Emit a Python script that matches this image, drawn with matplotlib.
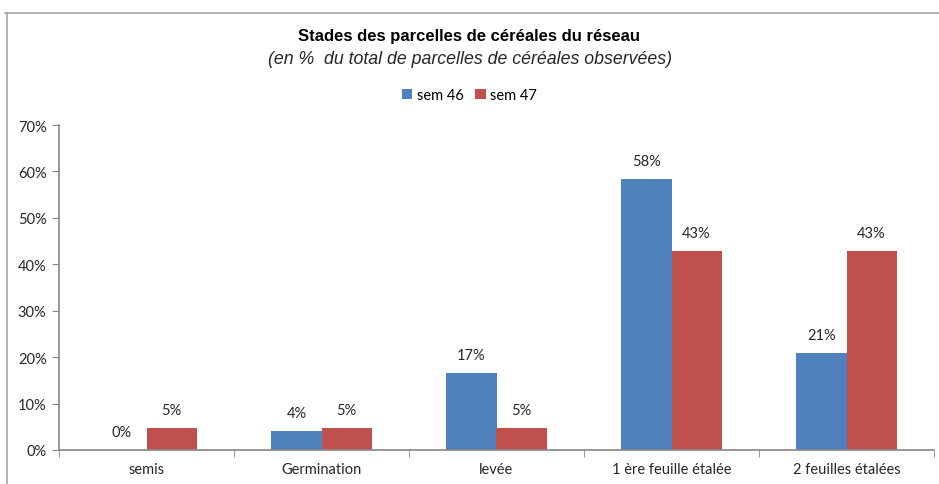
import matplotlib
matplotlib.use("Agg")
import matplotlib.pyplot as plt
from matplotlib.lines import Line2D
from matplotlib.patches import Patch
from matplotlib import font_manager
import numpy as np

categories = ["semis", "Germination", "levée", "1 ère feuille étalée", "2 feuilles étalées"]
sem46 = [0.0, 4.17, 16.67, 58.33, 20.83]
sem47 = [4.76, 4.76, 4.76, 42.86, 42.86]
labels46 = ["0%", "4%", "17%", "58%", "21%"]
labels47 = ["5%", "5%", "5%", "43%", "43%"]
series_names = ["sem 46", "sem 47"]
yticks = [0, 10, 20, 30, 40, 50, 60, 70]

available = {f.name for f in font_manager.fontManager.ttflist}
body_font = "Lato" if "Lato" in available else "DejaVu Sans"
narrow = "Liberation Sans Narrow" in available
title_font = "Liberation Sans Narrow" if narrow else "Liberation Sans"

plt.rcParams['font.family'] = [body_font, 'DejaVu Sans']

c46 = "#4F81BD"
c47 = "#C0504D"
gray = "#868686"
txt = "#262626"
fs = 10.5

fig = plt.figure(figsize=(9.39, 4.85), dpi=100)
W, H = 939, 485
ax = fig.add_axes([59 / W, 1 - 451 / H, 875 / W, 325 / H])

x = np.arange(len(categories))
bw = 0.286
ax.bar(x - bw / 2, sem46, bw, color=c46, label=series_names[0])
ax.bar(x + bw / 2, sem47, bw, color=c47, label=series_names[1])

for xi, v, lab in zip(x - bw / 2, sem46, labels46):
    ax.annotate(lab, (xi, v), xytext=(0, 13), textcoords="offset points",
                ha="center", va="center", fontsize=fs, color=txt)
for xi, v, lab in zip(x + bw / 2, sem47, labels47):
    ax.annotate(lab, (xi, v), xytext=(0, 13), textcoords="offset points",
                ha="center", va="center", fontsize=fs, color=txt)

ax.set_xlim(-0.5, len(categories) - 0.5)
ax.set_ylim(0, 70)
ax.set_yticks(yticks)
ax.set_yticklabels([f"{t}%" for t in yticks], fontsize=fs, color=txt)

ax.set_xticks(x)
ax.set_xticklabels(categories, fontsize=fs, color=txt)
ax.tick_params(axis="x", length=0, pad=9)
ax.set_xticks(np.arange(-0.5, len(categories), 1.0), minor=True)
ax.tick_params(axis="x", which="minor", length=5, color=gray, direction="out")
ax.tick_params(axis="y", length=5, color=gray, direction="out", pad=4)

for s in ["top", "right"]:
    ax.spines[s].set_visible(False)
for s in ["left", "bottom"]:
    ax.spines[s].set_color(gray)
    ax.spines[s].set_linewidth(1.2)

fig.text(0.5, 1 - 37 / H, "Stades des parcelles de céréales du réseau",
         ha="center", va="center", fontsize=13.5 if narrow else 12, fontweight="bold",
         family=[title_font, "DejaVu Sans"], color="black")
fig.text(0.5, 1 - 60 / H, "(en %  du total de parcelles de céréales observées)",
         ha="center", va="center", fontsize=12.8, style="italic",
         family=["Liberation Sans", "DejaVu Sans"], color=txt)

handles = [Patch(facecolor=c46, label=series_names[0]),
           Patch(facecolor=c47, label=series_names[1])]
fig.legend(handles=handles, loc="center", bbox_to_anchor=(0.5, 1 - 96 / H),
           ncol=2, frameon=False, fontsize=fs, handlelength=0.7, handleheight=0.7,
           handletextpad=0.3, columnspacing=0.8)

# outer frame
fig.add_artist(Line2D([5 / W, 1.0], [1 - 14 / H, 1 - 14 / H], color="#A6A6A6", lw=1.2))
fig.add_artist(Line2D([7 / W, 7 / W], [0, 1 - 14 / H], color="#A6A6A6", lw=1.2))

fig.savefig("out.png", dpi=100)
